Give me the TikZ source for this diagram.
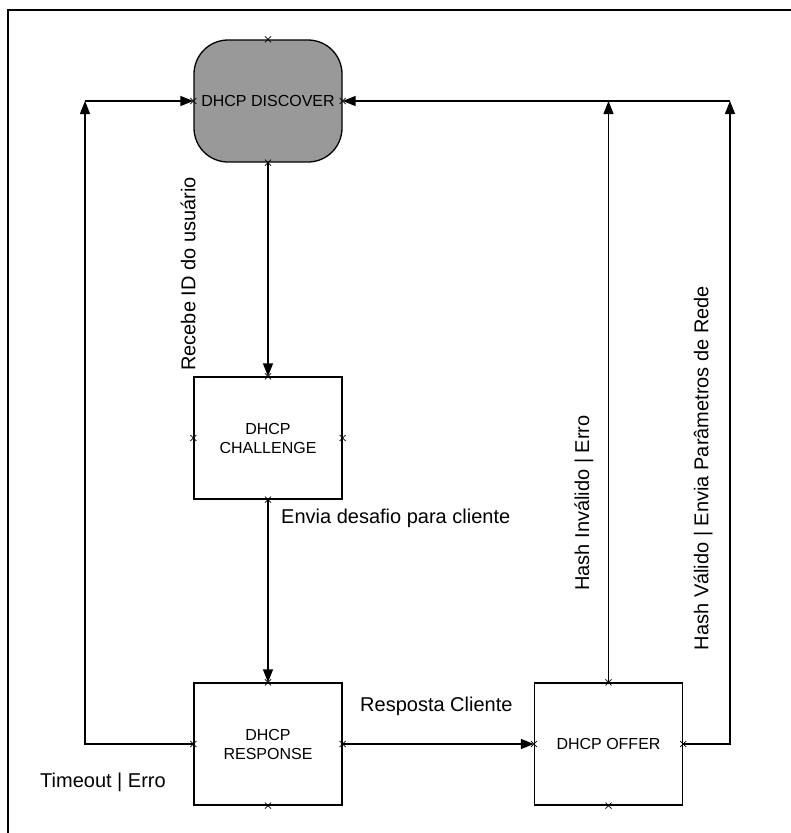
\documentclass[tikz,border=0pt]{standalone}
\usepackage{fontspec}
\setmainfont{Liberation Sans}
\usetikzlibrary{arrows.meta}
\begin{document}
\begin{tikzpicture}[x=1pt,y=-1pt,
  box/.style={draw, line width=1.3pt, minimum width=148pt, minimum height=122pt, align=center, font=\fontsize{16}{19}\selectfont, inner sep=0pt},
  discbox/.style={box, fill=black!40, rounded corners=34pt},
  conn/.style={line width=1.4pt, -{Triangle[length=13pt,width=10pt]}},
  lbl/.style={font=\fontsize{20}{24}\selectfont, inner sep=0pt},
  xm/.style={line width=0.8pt}]
\useasboundingbox (0,0) rectangle (791,833);
\draw[line width=1.5pt] (8,833) -- (8,10) -- (791,10);

\node[discbox] (disc) at (268,101) {DHCP DISCOVER};
\node[box] (chal) at (268,438) {DHCP\\CHALLENGE};
\node[box] (resp) at (268,744) {DHCP\\RESPONSE};
\node[box] (offer) at (608.5,744) {DHCP OFFER};

\coordinate (tl) at (85,101);
\coordinate (tm) at (608.5,101);
\coordinate (tr) at (730,101);

\draw[conn] (disc.south) -- (chal.north);
\draw[conn] (chal.south) -- (resp.north);
\draw[conn] (resp.east) -- (offer.west);
\draw[conn] (resp.west) -| (tl);
\draw[conn] (tl) -- (disc.west);
\draw[conn] (offer.north) -- (tm);
\draw[conn] (offer.east) -| (tr);
\draw[conn] (tr) -- (disc.east);

\foreach \n in {disc,chal,resp,offer}{
  \foreach \a in {north,south,east,west}{
    \draw[xm] (\n.\a) +(-3,-3) -- +(3,3) +(-3,3) -- +(3,-3);
  }
}

\node[lbl, rotate=90] (l1) at (188,274) {Recebe ID do usuário};
\node[lbl, anchor=west] (l2) at (281,518) {Envia desafio para cliente};
\node[lbl, anchor=west] (l3) at (360,706) {Resposta Cliente};
\node[lbl, anchor=west] (l4) at (40,782) {Timeout | Erro};
\node[lbl, rotate=90] (l5) at (584,503) {Hash Inválido | Erro};
\node[lbl, rotate=90] (l6) at (703,468) {Hash Válido | Envia Parâmetros de Rede};
\end{tikzpicture}
\end{document}
